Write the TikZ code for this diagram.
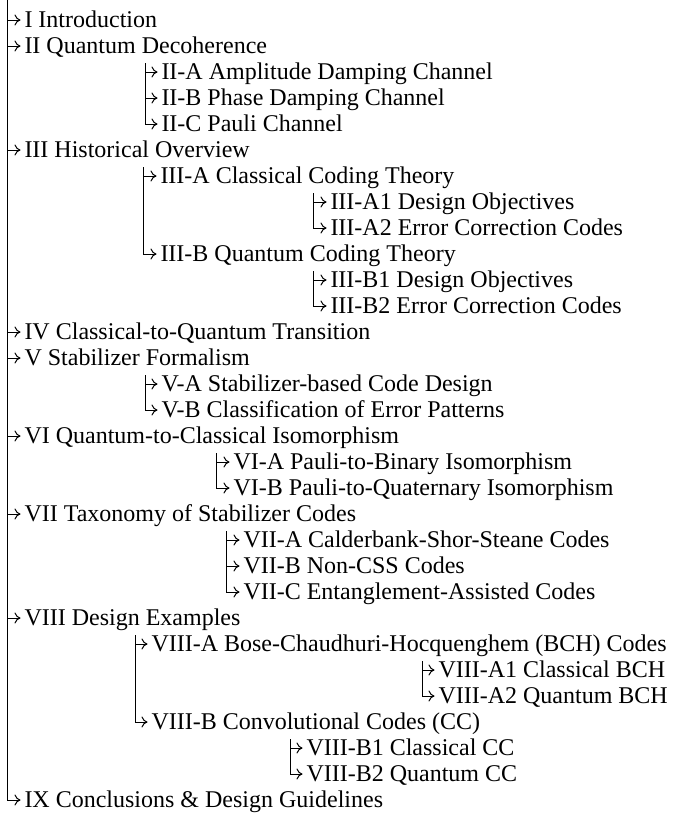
\documentclass[tikz,border=0pt]{standalone}
\usepackage{fontspec}
\setmainfont{Liberation Serif}
\usetikzlibrary{arrows.meta}
\begin{document}
\begin{tikzpicture}
  [x=1pt,y=-1pt,line width=1pt,
   every node/.style={anchor=west,inner sep=0pt,text height=18pt,text depth=4pt,
     font=\fontsize{24}{26}\selectfont},
   branch/.style={-{To[length=6pt,width=11pt]},shorten >=3.5pt}]
  \useasboundingbox (0,0) rectangle (674,817);

  \node (s1)   at (24,20)   {I Introduction};
  \node (s2)   at (24,46)   {II Quantum Decoherence};
  \node (s2a)  at (161,72)  {II-A Amplitude Damping Channel};
  \node (s2b)  at (161,98)  {II-B Phase Damping Channel};
  \node (s2c)  at (161,124) {II-C Pauli Channel};
  \node (s3)   at (24,150)  {III Historical Overview};
  \node (s3a)  at (160,176) {III-A Classical Coding Theory};
  \node (s3a1) at (330,202) {III-A1 Design Objectives};
  \node (s3a2) at (330,228) {III-A2 Error Correction Codes};
  \node (s3b)  at (160,254) {III-B Quantum Coding Theory};
  \node (s3b1) at (330,280) {III-B1 Design Objectives};
  \node (s3b2) at (330,306) {III-B2 Error Correction Codes};
  \node (s4)   at (24,332)  {IV Classical-to-Quantum Transition};
  \node (s5)   at (24,358)  {V Stabilizer Formalism};
  \node (s5a)  at (161,384) {V-A Stabilizer-based Code Design};
  \node (s5b)  at (161,410) {V-B Classification of Error Patterns};
  \node (s6)   at (24,436)  {VI Quantum-to-Classical Isomorphism};
  \node (s6a)  at (233,462) {VI-A Pauli-to-Binary Isomorphism};
  \node (s6b)  at (233,488) {VI-B Pauli-to-Quaternary Isomorphism};
  \node (s7)   at (24,514)  {VII Taxonomy of Stabilizer Codes};
  \node (s7a)  at (243,540) {VII-A Calderbank-Shor-Steane Codes};
  \node (s7b)  at (243,566) {VII-B Non-CSS Codes};
  \node (s7c)  at (243,592) {VII-C Entanglement-Assisted Codes};
  \node (s8)   at (24,618)  {VIII Design Examples};
  \node (s8a)  at (151,644) {VIII-A Bose-Chaudhuri-Hocquenghem (BCH) Codes};
  \node (s8a1) at (438,670) {VIII-A1 Classical BCH};
  \node (s8a2) at (438,696) {VIII-A2 Quantum BCH};
  \node (s8b)  at (151,722) {VIII-B Convolutional Codes (CC)};
  \node (s8b1) at (306,748) {VIII-B1 Classical CC};
  \node (s8b2) at (306,774) {VIII-B2 Quantum CC};
  \node (s9)   at (24,800)  {IX Conclusions \& Design Guidelines};

  % tops of the trunks
  \coordinate (t0)  at (7,0);
  \coordinate (t2)  at (145,63);
  \coordinate (t3)  at (143,167);
  \coordinate (t3a) at (313,193);
  \coordinate (t3b) at (313,271);
  \coordinate (t5)  at (145,375);
  \coordinate (t6)  at (216,453);
  \coordinate (t7)  at (226,531);
  \coordinate (t8)  at (135,635);
  \coordinate (t8a) at (422,661);
  \coordinate (t8b) at (290,739);

  % last child of each trunk
  \foreach \trunk/\child in {t0/s9,t2/s2c,t3/s3b,t3a/s3a2,t3b/s3b2,t5/s5b,
                             t6/s6b,t7/s7c,t8/s8b,t8a/s8a2,t8b/s8b2}
    \draw[branch] (\trunk) |- (\child.west);

  % other children
  \foreach \trunk/\child in {t0/s1,t0/s2,t0/s3,t0/s4,t0/s5,t0/s6,t0/s7,t0/s8,
                             t2/s2a,t2/s2b,t3/s3a,t3a/s3a1,t3b/s3b1,t5/s5a,
                             t6/s6a,t7/s7a,t7/s7b,t8/s8a,t8a/s8a1,t8b/s8b1}
    \draw[branch] (\trunk |- \child.west) -- (\child.west);

\end{tikzpicture}
\end{document}
